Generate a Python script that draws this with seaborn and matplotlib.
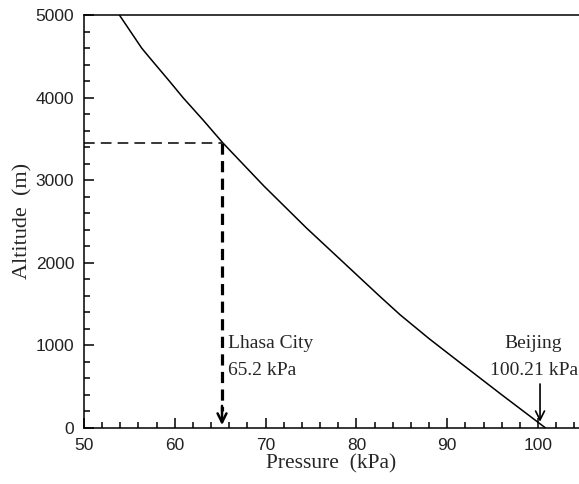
import matplotlib
matplotlib.use("Agg")
import matplotlib.pyplot as plt
import seaborn as sns
import pandas as pd
from matplotlib.ticker import MultipleLocator

# Pressure-altitude curve
pressure = [53.9, 56.35, 57.1, 59.4, 60.9, 63.1, 65.3, 69.8, 74.5, 78.6, 82.6,
            84.8, 88.0, 91.4, 96.0, 100.8]
altitude = [5000, 4600, 4500, 4200, 4000, 3730, 3450, 2930, 2420, 2000, 1590,
            1370, 1080, 790, 400, 0]

lhasa_p, lhasa_h = 65.2, 3450
beijing_p = 100.21

df = pd.DataFrame({"Pressure": pressure, "Altitude": altitude})

sns.set_theme(style="ticks")
plt.rcParams["font.family"] = ["Liberation Sans", "DejaVu Sans"]

fig = plt.figure(figsize=(5.79, 4.84), dpi=100)
ax = fig.add_axes([0.145, 0.116, 0.855, 0.853])

sns.lineplot(data=df, x="Pressure", y="Altitude", sort=False,
             color="black", linewidth=1.1, ax=ax)

# Lhasa guide lines
ax.plot([50, lhasa_p], [lhasa_h, lhasa_h], color="black", lw=1.1,
        dashes=(7, 4))
ax.plot([lhasa_p, lhasa_p], [lhasa_h, 200], color="black", lw=2.3,
        dashes=(3.5, 2))
ax.annotate("", xy=(lhasa_p, 0), xytext=(lhasa_p, 300),
            arrowprops=dict(arrowstyle="->", color="black", lw=1.8,
                            mutation_scale=16))
ax.annotate("", xy=(beijing_p, 40), xytext=(beijing_p, 565),
            arrowprops=dict(arrowstyle="->", color="black", lw=1.2,
                            mutation_scale=16))

serif = ["Liberation Serif", "DejaVu Serif"]
fs = 14
ax.text(65.85, 968, "Lhasa City", family=serif, fontsize=fs, va="baseline")
ax.text(65.85, 642, "65.2 kPa", family=serif, fontsize=fs, va="baseline")
ax.text(99.5, 968, "Beijing", family=serif, fontsize=fs, va="baseline",
        ha="center")
ax.text(99.5, 642, "100.21 kPa", family=serif, fontsize=fs,
        va="baseline", ha="center")

ax.set_xlim(50, 104.5)
ax.set_ylim(0, 5000)
ax.xaxis.set_major_locator(MultipleLocator(10))
ax.xaxis.set_minor_locator(MultipleLocator(2))
ax.yaxis.set_major_locator(MultipleLocator(1000))
ax.yaxis.set_minor_locator(MultipleLocator(200))
ax.tick_params(which="both", direction="in", top=False, right=False,
               labelsize=12.5, color="black", width=1.1, labelcolor="#222222")
ax.tick_params(axis="x", which="both", pad=7)
ax.tick_params(axis="y", which="both", pad=7)
ax.tick_params(which="major", length=7)
ax.tick_params(which="minor", length=4)

ax.spines["right"].set_visible(False)
for s in ["left", "bottom", "top"]:
    ax.spines[s].set_linewidth(1.1)
    ax.spines[s].set_color("black")

ax.set_xlabel("Pressure  (kPa)", family=serif, fontsize=15.5, labelpad=1)
ax.set_ylabel("Altitude  (m)", family=serif, fontsize=16, labelpad=2)

fig.savefig("out.png", dpi=100)
